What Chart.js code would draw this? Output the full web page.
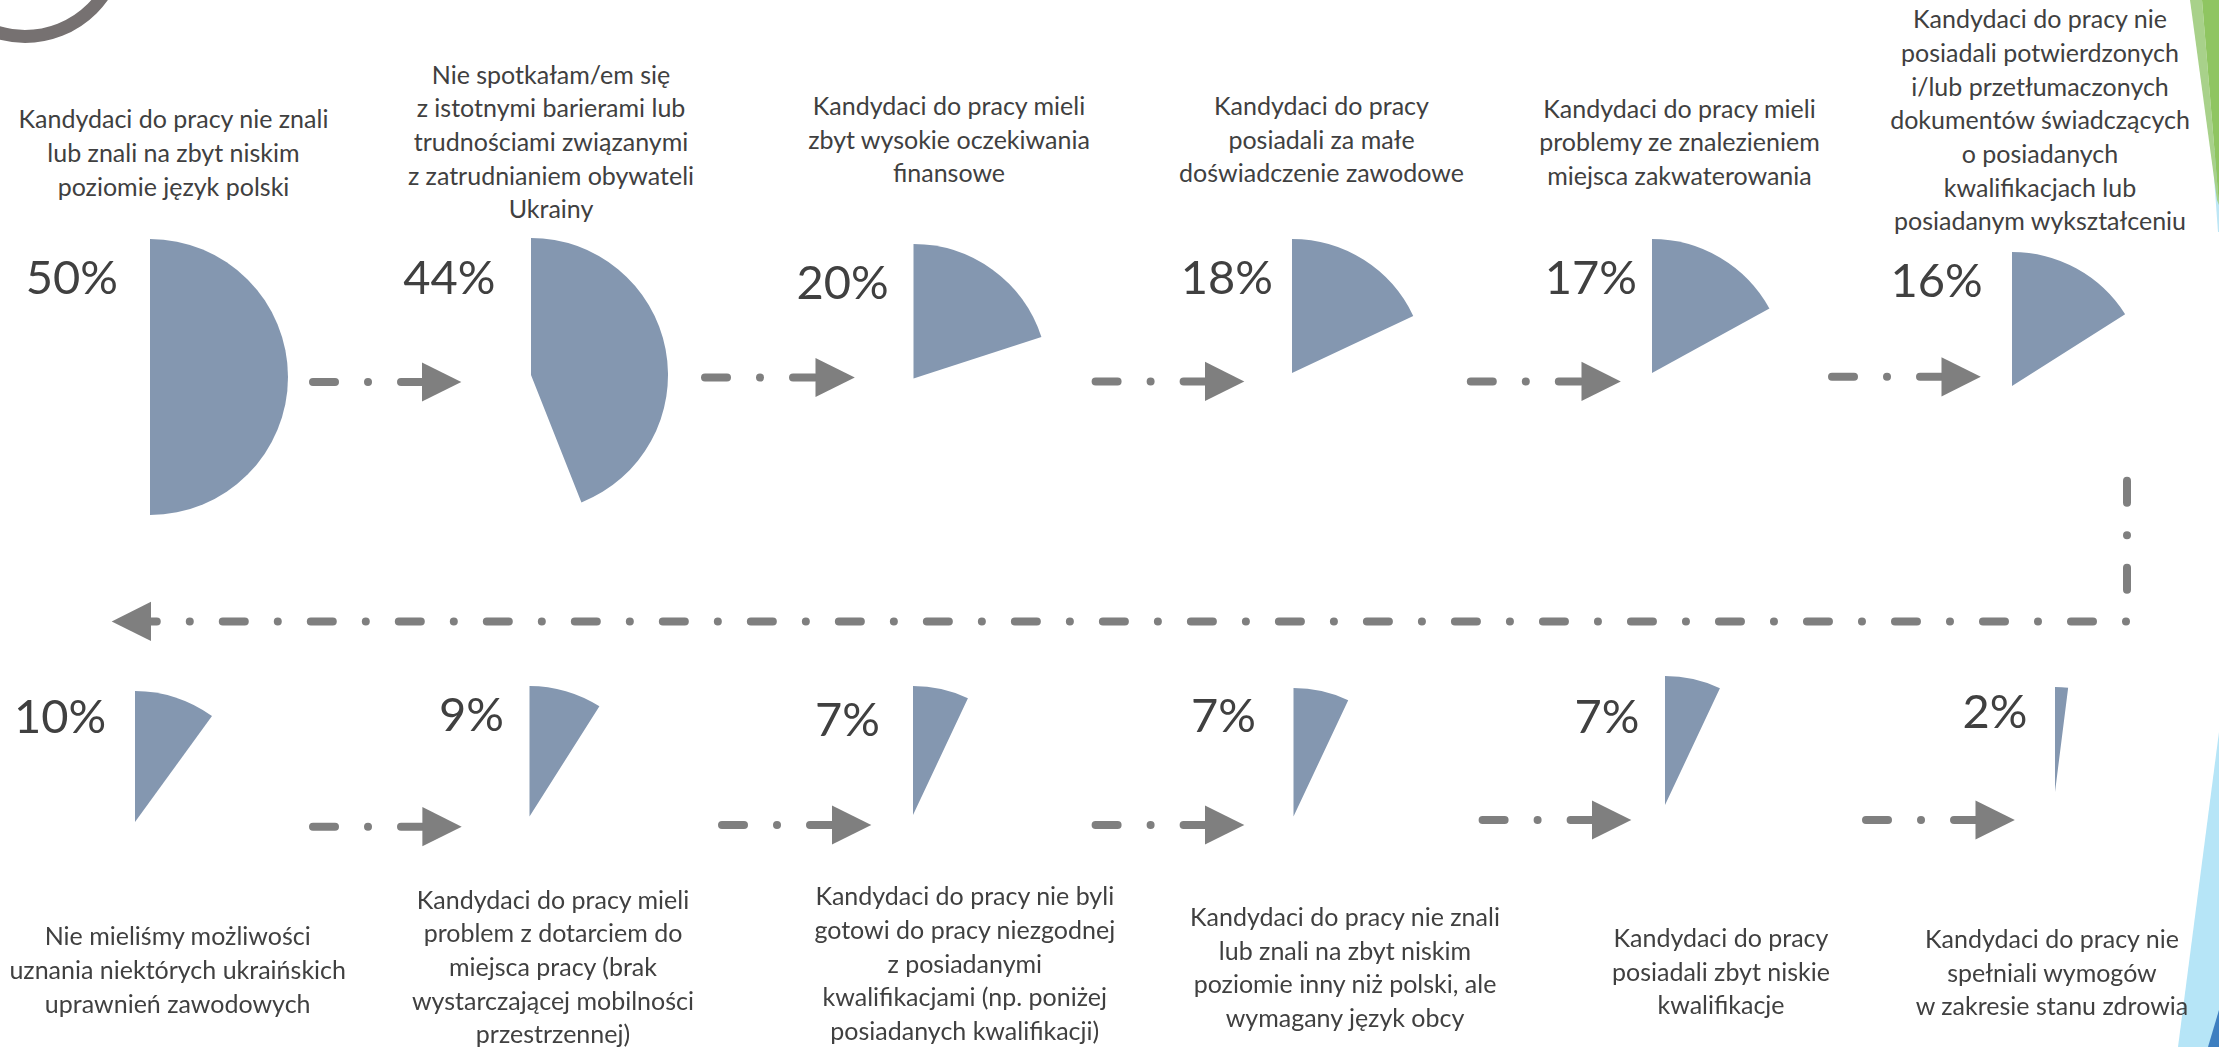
<!DOCTYPE html>
<html>
<head>
<meta charset="utf-8">
<script src="https://cdn.jsdelivr.net/npm/chart.js@4.4.1/dist/chart.umd.min.js"></script>
<style>
  html, body { margin: 0; padding: 0; background: #fff; }
  #stage { position: relative; width: 2219px; height: 1047px; overflow: hidden;
           font-family: Lato, "Noto Sans", sans-serif; color: #404040; }
  #deco { position: absolute; left: 0; top: 0; }
  .pie { position: absolute; }
  .label { position: absolute; width: 440px; text-align: center; white-space: pre;
           font-size: 25px; line-height: 33.7px; }
  .pct { position: absolute; width: 160px; text-align: right; font-size: 47px; line-height: 50px; }
</style>
</head>
<body>
<div id="stage">
  <svg id="deco" width="2219" height="1047" xmlns="http://www.w3.org/2000/svg"></svg>
</div>
<script>
// ---- data ----
const categories = [
  "Kandydaci do pracy nie znali\nlub znali na zbyt niskim\npoziomie język polski",
  "Nie spotkałam/em się\nz istotnymi barierami lub\ntrudnościami związanymi\nz zatrudnianiem obywateli\nUkrainy",
  "Kandydaci do pracy mieli\nzbyt wysokie oczekiwania\nfinansowe",
  "Kandydaci do pracy\nposiadali za małe\ndoświadczenie zawodowe",
  "Kandydaci do pracy mieli\nproblemy ze znalezieniem\nmiejsca zakwaterowania",
  "Kandydaci do pracy nie\nposiadali potwierdzonych\ni/lub przetłumaczonych\ndokumentów świadczących\no posiadanych\nkwalifikacjach lub\nposiadanym wykształceniu",
  "Nie mieliśmy możliwości\nuznania niektórych ukraińskich\nuprawnień zawodowych",
  "Kandydaci do pracy mieli\nproblem z dotarciem do\nmiejsca pracy (brak\nwystarczającej mobilności\nprzestrzennej)",
  "Kandydaci do pracy nie byli\ngotowi do pracy niezgodnej\nz posiadanymi\nkwalifikacjami (np. poniżej\nposiadanych kwalifikacji)",
  "Kandydaci do pracy nie znali\nlub znali na zbyt niskim\npoziomie inny niż polski, ale\nwymagany język obcy",
  "Kandydaci do pracy\nposiadali zbyt niskie\nkwalifikacje",
  "Kandydaci do pracy nie\nspełniali wymogów\nw zakresie stanu zdrowia"
];
const values = [50, 44, 20, 18, 17, 16, 10, 9, 7, 7, 7, 2];
const valueLabels = ["50%", "44%", "20%", "18%", "17%", "16%", "10%", "9%", "7%", "7%", "7%", "2%"];

// ---- layout (pie centre x, y, radius) ----
const pieBoxes = [
  [150, 377, 138], [531, 375, 137], [913.7, 378.6, 134.6], [1292, 372.5, 134], [1652, 372.5, 134], [2012, 385.7, 134],
  [134.5, 821.7, 131], [530, 816.7, 130.7], [913.2, 815, 129], [1293, 816.7, 128.5], [1665, 805, 129], [2054.8, 791.7, 105]
];
// percentage text: right edge, cap centre
const pctPos = [
  [118, 276.8], [495.5, 277.7], [888.7, 282], [1273, 276.8], [1637, 277.7], [1982.6, 280.4],
  [106.2, 716.7], [504, 714], [880, 719], [1256, 715], [1639.5, 716.5], [2027.4, 711.7]
];
// category text: centre x, cap centre of first line
const labelPos = [
  [173.5, 119.6], [551, 75], [949, 106.4], [1321.5, 106.4], [1679.5, 109], [2040, 19.6],
  [177.7, 936.7], [553, 900], [964.8, 896.7], [1345, 917.3], [1721, 938.3], [2052, 939.3]
];
// small arrows: start x, head base x, y
const arrows = [
  [313, 422, 382], [705, 815.5, 377.5], [1095.6, 1205, 381.4], [1470.8, 1581.5, 381.4], [1832, 1941.5, 376.8],
  [313, 422.4, 826.7], [722, 832, 825], [1095.6, 1205, 825], [1482.6, 1592, 820], [1866, 1975.5, 820]
];

const stage = document.getElementById('stage');
const svg = document.getElementById('deco');
const NS = 'http://www.w3.org/2000/svg';
const GREY = '#7f7f7f';

function svgEl(tag, attrs) {
  const el = document.createElementNS(NS, tag);
  for (const k in attrs) el.setAttribute(k, attrs[k]);
  svg.appendChild(el);
  return el;
}

// decorations
svgEl('circle', {cx: 25, cy: -58.6, r: 95, fill: 'none', stroke: '#767171', 'stroke-width': 13});
svgEl('polygon', {points: '2212,150 2219,150 2219,232 2218,232', fill: '#bde6f5'});
svgEl('polygon', {points: '2190,0 2202,0 2219,205 2217,200', fill: '#a8d18a'});
svgEl('polygon', {points: '2202,0 2219,0 2219,205', fill: '#8fc561'});
svgEl('polygon', {points: '2219,732 2219,1047 2178,1047', fill: '#b6e5f7'});
svgEl('polygon', {points: '2219,1010 2219,1047 2208,1047', fill: '#3e7fc0'});

function head(xBase, y, dir) {
  const tip = xBase + dir * 39.3;
  svgEl('polygon', {points: `${xBase},${y - 19.6} ${tip},${y} ${xBase},${y + 19.6}`, fill: GREY});
}

arrows.forEach(([x0, xb, y]) => {
  svgEl('path', {d: `M${x0} ${y} H${xb}`, stroke: GREY, 'stroke-width': 8, fill: 'none',
    'stroke-linecap': 'round', 'stroke-dasharray': '22 33 0.01 33'});
  head(xb, y, 1);
});

// return connector on the right and along the middle
svgEl('path', {d: 'M2127 480.7 V621.7', stroke: GREY, 'stroke-width': 8, fill: 'none',
  'stroke-linecap': 'round', 'stroke-dasharray': '22 32.5 0.01 32.5'});
svgEl('path', {d: 'M2126 621.5 H151', stroke: GREY, 'stroke-width': 8, fill: 'none',
  'stroke-linecap': 'round', 'stroke-dasharray': '0.01 33 22 33'});
head(151, 621.4, -1);

values.forEach((v, i) => {
  const [cx, cy, r] = pieBoxes[i];
  const box = document.createElement('div');
  box.className = 'pie';
  box.style.left = (cx - r) + 'px';
  box.style.top = (cy - r) + 'px';
  const canvas = document.createElement('canvas');
  canvas.width = 2 * r;
  canvas.height = 2 * r;
  box.appendChild(canvas);
  stage.appendChild(box);

  new Chart(canvas, {
    type: 'pie',
    data: {
      labels: [categories[i], ''],
      datasets: [{
        data: [v, 100 - v],
        backgroundColor: ['#8497B0', 'rgba(0,0,0,0)'],
        borderWidth: 0,
        offset: 0,
        hoverOffset: 0
      }]
    },
    options: {
      responsive: false,
      animation: false,
      events: [],
      layout: { padding: 0 },
      plugins: { legend: { display: false }, tooltip: { enabled: false } }
    }
  });

  const pct = document.createElement('div');
  pct.className = 'pct';
  pct.textContent = valueLabels[i];
  pct.style.left = (pctPos[i][0] - 160) + 'px';
  pct.style.top = (pctPos[i][1] - 26.3) + 'px';
  stage.appendChild(pct);

  const lab = document.createElement('div');
  lab.className = 'label';
  lab.textContent = categories[i];
  lab.style.left = (labelPos[i][0] - 220) + 'px';
  lab.style.top = (labelPos[i][1] - 17.5) + 'px';
  stage.appendChild(lab);
});
</script>
</body>
</html>
